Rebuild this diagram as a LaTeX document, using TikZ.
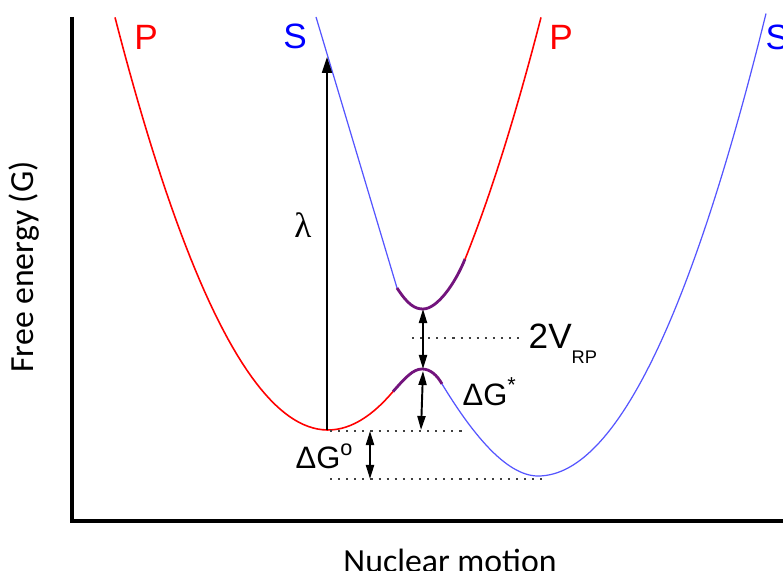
\documentclass[tikz,border=0pt]{standalone}
\usepackage{fontspec}
\setmainfont{Liberation Sans}
\newfontfamily\calibri{Carlito}
\newfontfamily\symb{Liberation Serif}
\usetikzlibrary{arrows.meta}
\definecolor{sblue}{RGB}{85,85,255}
\definecolor{mixpurple}{RGB}{115,20,125}

\begin{document}
\begin{tikzpicture}[x=0.01cm,y=-0.01cm,
    lbl/.style={font=\fontsize{10}{12}\selectfont,inner sep=0pt},
    gap/.style={dash pattern=on 0.6pt off 1.7pt,line width=0.6pt,black!75},
    dbl/.style={{Triangle[length=4pt,width=2.3pt]}-{Triangle[length=4pt,width=2.3pt]},line width=0.55pt},
    pcurve/.style={red,line width=0.45pt},
    scurve/.style={sblue,line width=0.35pt},
    mix/.style={mixpurple,line width=0.8pt}]
  \useasboundingbox (0,0) rectangle (783,571);
  \draw[line width=0.9pt] (72,17) -- (72,521) -- (790,521);
  \coordinate (Pmin) at (327,430);
  \coordinate (lamtop) at (327,57);
  \coordinate (umin) at (423,309);
  \coordinate (lpeak) at (423,369);
  \coordinate (gtop) at (423,371);
  \coordinate (gbot) at (421,430);
  \coordinate (gotop) at (370,431);
  \coordinate (gobot) at (370,479);
  % lower surface
  \draw[pcurve] plot[domain=115:393,samples=60] (\x,{430-0.0091*(\x-328)*(\x-328)});
  \draw[mix] (393,391.6) .. controls (405,378) and (413,369) .. (422,369)
    .. controls (430,369) and (437,375) .. (442,384);
  \draw[scurve] (442,384) .. controls (470,430) and (505,476) .. (538,476)
    -- plot[domain=538:766,samples=60] (\x,{476-0.0089*(\x-538)*(\x-538)});
  % upper surface
  \draw[scurve] (316,17) -- (397,288);
  \draw[mix] (397,288) .. controls (408,305) and (415,309) .. (423,309)
    .. controls (437,309) and (455,284) .. (465,259);
  \draw[pcurve] plot[domain=465:541,samples=30] (\x,{430-0.0091*(\x-328)*(\x-328)});
  \draw[gap] (412,338) -- (520,338);
  \draw[gap] (Pmin) ++(3,1) -- (462,431);
  \draw[gap] (330,479) -- (543,479);
  \draw[-{Triangle[length=4.5pt,width=2.8pt]},line width=0.6pt] (Pmin) -- (lamtop);
  \draw[dbl] (umin) -- (lpeak);
  \draw[dbl] (gtop) -- (gbot);
  \draw[dbl] (gotop) -- (gobot);
  \node[lbl,red] (pleft) at (146,37) {P};
  \node[lbl,blue] (sleft) at (295,36) {S};
  \node[lbl,red] (pright) at (561,37) {P};
  \node[lbl,blue,anchor=west] (sright) at (765,37) {S};
  \node[font=\symb\fontsize{10}{12}\selectfont,inner sep=0pt] (lam) at (303,225) {λ};
  \node[lbl,anchor=base west] (vrp) at (528,349) {2V\raisebox{-4pt}{\fontsize{5.2}{6}\selectfont RP}};
  \node[font=\fontsize{8.8}{10}\selectfont,inner sep=0pt,anchor=base west] (gstar) at (462,406) {ΔG\textsuperscript{*}};
  \node[font=\fontsize{8.8}{10}\selectfont,inner sep=0pt,anchor=base west] (gzero) at (295,469) {ΔG\textsuperscript{o}};
  \node[font=\calibri\fontsize{9.6}{11}\selectfont,inner sep=0pt,anchor=base] (xlab) at (450,572) {Nuclear motion};
  \node[font=\calibri\fontsize{9.6}{11}\selectfont,inner sep=0pt,anchor=base,rotate=90] (ylab) at (34,267) {Free energy (G)};
\end{tikzpicture}
\end{document}
